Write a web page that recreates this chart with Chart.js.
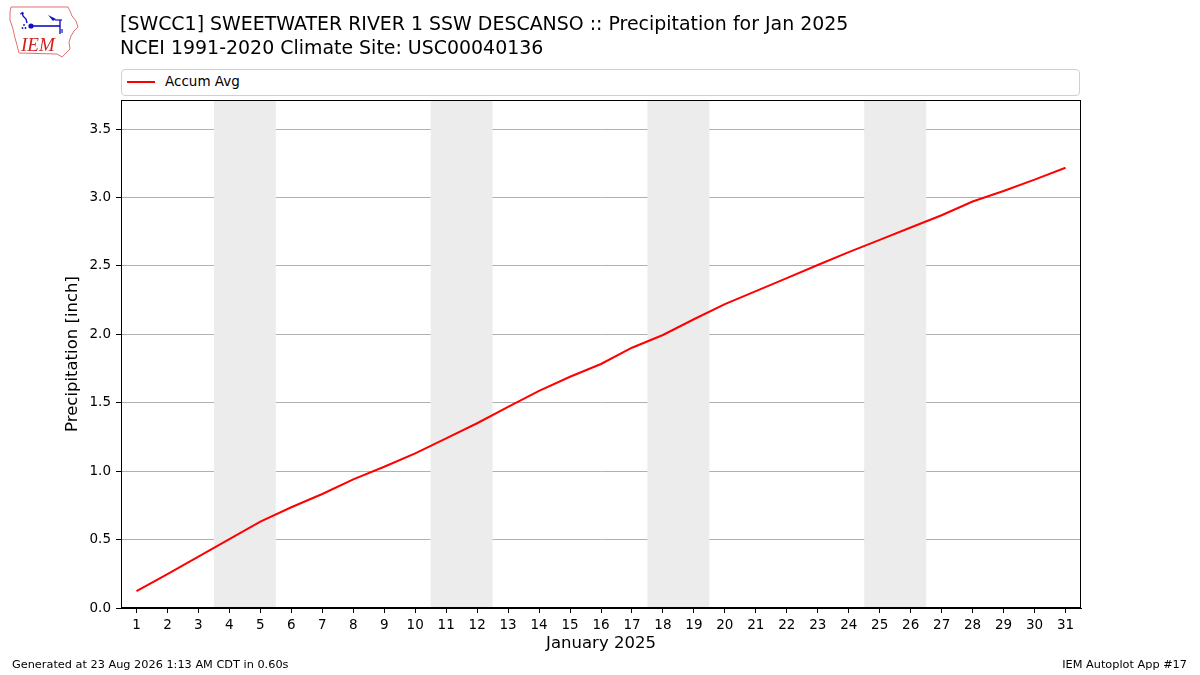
<!DOCTYPE html>
<html>
<head>
<meta charset="utf-8">
<script src="https://cdn.jsdelivr.net/npm/chart.js@4"></script>
<style>
  body { margin: 0; background: #fff; font-family: "DejaVu Sans", sans-serif; }
  #wrap { position: relative; width: 1200px; height: 675px; overflow: hidden; }
  #chart { position: absolute; left: 0; top: 0; }
  .t { position: absolute; white-space: nowrap; color: #000; }
  #title1 { left: 120px; top: 12px; font-size: 18.95px; }
  #title2 { left: 120px; top: 36px; font-size: 18.95px; }
  #legend { position: absolute; left: 121px; top: 69px; width: 957px; height: 25px;
            border: 1px solid #d0d0d0; border-radius: 4px; background: #fff; }
  #legend .swatch { position: absolute; left: 5px; top: 11px; width: 28px; height: 2px; background: #ff0000; }
  #legend .lbl { position: absolute; left: 43px; top: 3px; font-size: 13.5px; }
  #foot1 { left: 12px; top: 658px; font-size: 11.3px; }
  #foot2 { right: 13px; top: 658px; font-size: 11.3px; }
  #logo { position: absolute; left: 0; top: 0; }
</style>
</head>
<body>
<div id="wrap">
  <canvas id="chart" width="1200" height="675"></canvas>
  <svg id="logo" width="85" height="62" viewBox="0 0 85 62">
    <path d="M11 7 L68 7 L70 11 L72 16 L76 21 L78 27 L74 31 L71 36 L69 42 L70 49 L66 53 L62 57 L57 54 L19 53 L17 45 L15 38 L13 29 L10 20 L10 12 Z"
          fill="none" stroke="#e07070" stroke-width="1"/>
    <path d="M22 12 L23 16 L26 19 L27 23" fill="none" stroke="#1010c0" stroke-width="1.4"/>
    <path d="M20 14 L24 13" fill="none" stroke="#1010c0" stroke-width="1.2"/>
    <circle cx="31" cy="26" r="2.6" fill="#1010c0"/>
    <line x1="31" y1="26" x2="60" y2="26" stroke="#1010c0" stroke-width="1.6"/>
    <path d="M48 15 L56 19 L53 21 Z" fill="#1010c0"/>
    <line x1="55" y1="20" x2="62" y2="20" stroke="#1010c0" stroke-width="1.2"/>
    <line x1="60" y1="20" x2="60" y2="34" stroke="#1010c0" stroke-width="1.4"/>
    <path d="M62 29 L62 33" stroke="#1010c0" stroke-width="1.2"/>
    <circle cx="24" cy="25" r="0.9" fill="#1010c0"/>
    <circle cx="22.5" cy="28" r="0.9" fill="#1010c0"/>
    <circle cx="25.5" cy="28" r="0.9" fill="#1010c0"/>
    <text x="21" y="51" font-family="Liberation Serif, serif" font-style="italic" font-size="19" fill="#d02020">IEM</text>
  </svg>
  <div class="t" id="title1">[SWCC1] SWEETWATER RIVER 1 SSW DESCANSO :: Precipitation for Jan 2025</div>
  <div class="t" id="title2">NCEI 1991-2020 Climate Site: USC00040136</div>
  <div id="legend"><div class="swatch"></div><div class="t lbl">Accum Avg</div></div>
  <div class="t" id="foot1">Generated at 23 Aug 2026 1:13 AM CDT in 0.60s</div>
  <div class="t" id="foot2">IEM Autoplot App #17</div>
</div>
<script>
// Dias de janeiro (rótulos do eixo x)
const days = [1, 2, 3, 4, 5, 6, 7, 8, 9, 10, 11, 12, 13, 14, 15, 16,
  17, 18, 19, 20, 21, 22, 23, 24, 25, 26, 27, 28, 29, 30, 31];

// Precipitação média acumulada (polegadas)
const accumAvg = [0.124, 0.248, 0.375, 0.504, 0.631, 0.736, 0.833, 0.940, 1.032, 1.130,
  1.240, 1.350, 1.470, 1.586, 1.690, 1.783, 1.902, 1.995, 2.110, 2.220,
  2.316, 2.410, 2.506, 2.600, 2.690, 2.780, 2.870, 2.970, 3.047, 3.130, 3.217];

// Fins de semana (primeiro dia de cada par sábado/domingo)
const weekendStarts = [4, 11, 18, 25];

const yTicks = [0.0, 0.5, 1.0, 1.5, 2.0, 2.5, 3.0, 3.5];

// Sombreamento dos fins de semana + moldura
const framePlugin = {
  id: "frame",
  beforeDatasetsDraw(chart) {
    const { ctx, chartArea, scales } = chart;
    const x = scales.x;
    const half = (x.getPixelForValue(1) - x.getPixelForValue(0)) / 2;
    ctx.save();
    ctx.fillStyle = "#ececec";
    weekendStarts.forEach(d => {
      const i = days.indexOf(d);
      const x0 = x.getPixelForValue(i) - half;
      const x1 = x.getPixelForValue(i + 1) + half;
      ctx.fillRect(x0, chartArea.top, x1 - x0, chartArea.bottom - chartArea.top);
    });
    ctx.restore();
  },
  afterDraw(chart) {
    const { ctx, chartArea } = chart;
    ctx.save();
    ctx.strokeStyle = "#000";
    ctx.lineWidth = 1;
    ctx.strokeRect(chartArea.left + 0.5, chartArea.top + 0.5,
      chartArea.right - chartArea.left - 1, chartArea.bottom - chartArea.top - 1);
    ctx.restore();
  }
};

// Gráfico
function renderChart() {
  const canvas = document.getElementById("chart").getContext("2d");
  new Chart(canvas, {
    type: "line",
    data: {
      labels: days,
      datasets: [{
        label: "Accum Avg",
        data: accumAvg,
        borderColor: "#ff0000",
        borderWidth: 2,
        pointRadius: 0,
        tension: 0,
        fill: false
      }]
    },
    options: {
      responsive: false,
      animation: false,
      layout: { padding: { top: 100, right: 119, left: 0, bottom: 0 } },
      plugins: { legend: { display: false }, title: { display: false }, tooltip: { enabled: false } },
      scales: {
        x: {
          type: "category",
          offset: true,
          grid: { drawOnChartArea: false, offset: false, tickColor: "#000", tickLength: 5 },
          border: { color: "#000" },
          ticks: { color: "#000", font: { family: "DejaVu Sans", size: 13.5 }, padding: 4,
                   autoSkip: false, maxRotation: 0 },
          title: { display: true, text: "January 2025", color: "#000",
                   font: { family: "DejaVu Sans", size: 16.5 }, padding: { top: 0, bottom: 21 } },
          afterFit(scale) { scale.height = 67; }
        },
        y: {
          min: 0,
          max: 3.712,
          grid: { color: "#b0b0b0", tickColor: "#000", tickLength: 5 },
          border: { color: "#000" },
          ticks: { color: "#000", font: { family: "DejaVu Sans", size: 13.5 }, padding: 5,
                   callback: v => Number(v).toFixed(1) },
          afterBuildTicks(scale) { scale.ticks = yTicks.map(v => ({ value: v })); },
          title: { display: true, text: "Precipitation [inch]", color: "#000",
                   font: { family: "DejaVu Sans", size: 16.5 }, padding: { top: 63, bottom: 0 } },
          afterFit(scale) { scale.width = 121; }
        }
      }
    },
    plugins: [framePlugin]
  });
}

document.addEventListener("DOMContentLoaded", renderChart);
</script>
</body>
</html>
